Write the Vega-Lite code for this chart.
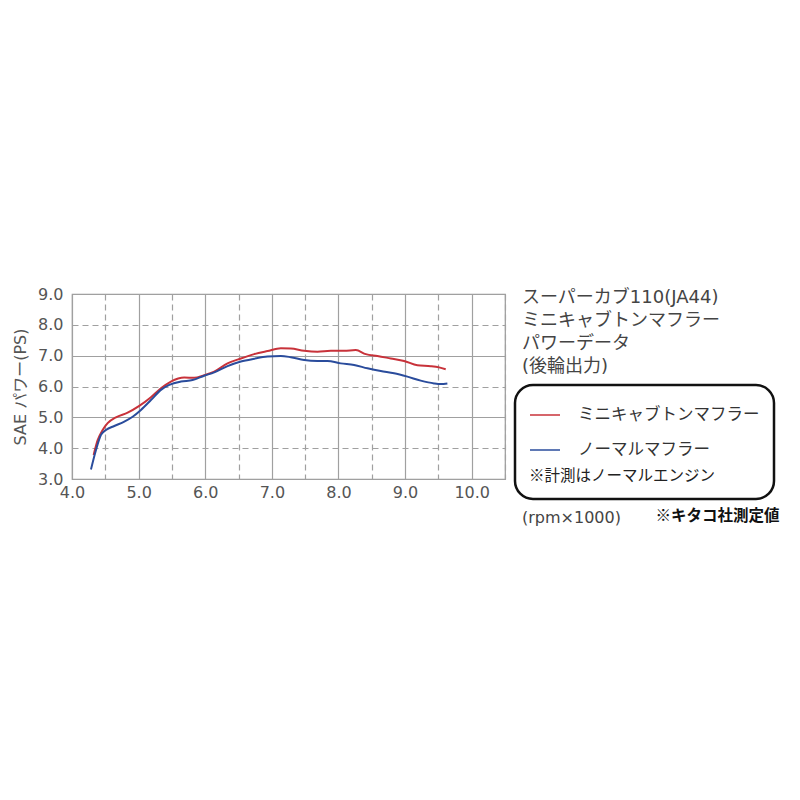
{
  "$schema": "https://vega.github.io/schema/vega-lite/v6.json",
  "width": 433,
  "height": 185,
  "autosize": {"type": "none"},
  "padding": {"left": 72, "top": 294, "right": 295, "bottom": 321},
  "background": "white",
  "title": {
    "text": ["スーパーカブ110(JA44)", "ミニキャブトンマフラー", "パワーデータ", "(後輪出力)"],
    "subtitle": "(rpm×1000)",
    "anchor": "start",
    "frame": "group",
    "orient": "top",
    "dx": 450,
    "dy": 244,
    "baseline": "top",
    "font": "DejaVu Sans, Noto Sans CJK JP",
    "fontSize": 18,
    "fontWeight": "normal",
    "color": "#444444",
    "lineHeight": 23,
    "subtitleFont": "DejaVu Sans, Noto Sans CJK JP",
    "subtitleFontSize": 16,
    "subtitleFontWeight": "normal",
    "subtitleColor": "#444444",
    "subtitlePadding": 134
  },
  "data": {
    "values": [
      {"rpm": 4.325, "ps": 3.78, "series": "ミニキャブトンマフラー"},
      {"rpm": 4.385, "ps": 4.26, "series": "ミニキャブトンマフラー"},
      {"rpm": 4.46, "ps": 4.59, "series": "ミニキャブトンマフラー"},
      {"rpm": 4.535, "ps": 4.81, "series": "ミニキャブトンマフラー"},
      {"rpm": 4.66, "ps": 5.0, "series": "ミニキャブトンマフラー"},
      {"rpm": 4.835, "ps": 5.15, "series": "ミニキャブトンマフラー"},
      {"rpm": 5.01, "ps": 5.37, "series": "ミニキャブトンマフラー"},
      {"rpm": 5.185, "ps": 5.65, "series": "ミニキャブトンマフラー"},
      {"rpm": 5.335, "ps": 5.94, "series": "ミニキャブトンマフラー"},
      {"rpm": 5.485, "ps": 6.16, "series": "ミニキャブトンマフラー"},
      {"rpm": 5.685, "ps": 6.29, "series": "ミニキャブトンマフラー"},
      {"rpm": 5.835, "ps": 6.28, "series": "ミニキャブトンマフラー"},
      {"rpm": 5.985, "ps": 6.37, "series": "ミニキャブトンマフラー"},
      {"rpm": 6.135, "ps": 6.48, "series": "ミニキャブトンマフラー"},
      {"rpm": 6.335, "ps": 6.75, "series": "ミニキャブトンマフラー"},
      {"rpm": 6.535, "ps": 6.91, "series": "ミニキャブトンマフラー"},
      {"rpm": 6.735, "ps": 7.05, "series": "ミニキャブトンマフラー"},
      {"rpm": 6.935, "ps": 7.15, "series": "ミニキャブトンマフラー"},
      {"rpm": 7.135, "ps": 7.24, "series": "ミニキャブトンマフラー"},
      {"rpm": 7.285, "ps": 7.23, "series": "ミニキャブトンマフラー"},
      {"rpm": 7.485, "ps": 7.16, "series": "ミニキャブトンマフラー"},
      {"rpm": 7.685, "ps": 7.13, "series": "ミニキャブトンマフラー"},
      {"rpm": 7.885, "ps": 7.16, "series": "ミニキャブトンマフラー"},
      {"rpm": 8.085, "ps": 7.16, "series": "ミニキャブトンマフラー"},
      {"rpm": 8.26, "ps": 7.18, "series": "ミニキャブトンマフラー"},
      {"rpm": 8.41, "ps": 7.05, "series": "ミニキャブトンマフラー"},
      {"rpm": 8.585, "ps": 6.99, "series": "ミニキャブトンマフラー"},
      {"rpm": 8.785, "ps": 6.91, "series": "ミニキャブトンマフラー"},
      {"rpm": 8.985, "ps": 6.83, "series": "ミニキャブトンマフラー"},
      {"rpm": 9.185, "ps": 6.69, "series": "ミニキャブトンマフラー"},
      {"rpm": 9.385, "ps": 6.66, "series": "ミニキャブトンマフラー"},
      {"rpm": 9.51, "ps": 6.62, "series": "ミニキャブトンマフラー"},
      {"rpm": 9.61, "ps": 6.56, "series": "ミニキャブトンマフラー"},
      {"rpm": 4.285, "ps": 3.31, "series": "ノーマルマフラー"},
      {"rpm": 4.36, "ps": 3.94, "series": "ノーマルマフラー"},
      {"rpm": 4.435, "ps": 4.43, "series": "ノーマルマフラー"},
      {"rpm": 4.51, "ps": 4.59, "series": "ノーマルマフラー"},
      {"rpm": 4.635, "ps": 4.72, "series": "ノーマルマフラー"},
      {"rpm": 4.785, "ps": 4.86, "series": "ノーマルマフラー"},
      {"rpm": 4.91, "ps": 5.02, "series": "ノーマルマフラー"},
      {"rpm": 5.035, "ps": 5.24, "series": "ノーマルマフラー"},
      {"rpm": 5.185, "ps": 5.56, "series": "ノーマルマフラー"},
      {"rpm": 5.335, "ps": 5.89, "series": "ノーマルマフラー"},
      {"rpm": 5.46, "ps": 6.05, "series": "ノーマルマフラー"},
      {"rpm": 5.635, "ps": 6.16, "series": "ノーマルマフラー"},
      {"rpm": 5.81, "ps": 6.21, "series": "ノーマルマフラー"},
      {"rpm": 5.985, "ps": 6.35, "series": "ノーマルマフラー"},
      {"rpm": 6.135, "ps": 6.46, "series": "ノーマルマフラー"},
      {"rpm": 6.335, "ps": 6.66, "series": "ノーマルマフラー"},
      {"rpm": 6.535, "ps": 6.81, "series": "ノーマルマフラー"},
      {"rpm": 6.735, "ps": 6.9, "series": "ノーマルマフラー"},
      {"rpm": 6.935, "ps": 6.97, "series": "ノーマルマフラー"},
      {"rpm": 7.135, "ps": 6.99, "series": "ノーマルマフラー"},
      {"rpm": 7.285, "ps": 6.95, "series": "ノーマルマフラー"},
      {"rpm": 7.485, "ps": 6.86, "series": "ノーマルマフラー"},
      {"rpm": 7.685, "ps": 6.83, "series": "ノーマルマフラー"},
      {"rpm": 7.835, "ps": 6.83, "series": "ノーマルマフラー"},
      {"rpm": 8.035, "ps": 6.75, "series": "ノーマルマフラー"},
      {"rpm": 8.235, "ps": 6.7, "series": "ノーマルマフラー"},
      {"rpm": 8.435, "ps": 6.59, "series": "ノーマルマフラー"},
      {"rpm": 8.635, "ps": 6.5, "series": "ノーマルマフラー"},
      {"rpm": 8.835, "ps": 6.43, "series": "ノーマルマフラー"},
      {"rpm": 9.035, "ps": 6.32, "series": "ノーマルマフラー"},
      {"rpm": 9.235, "ps": 6.19, "series": "ノーマルマフラー"},
      {"rpm": 9.435, "ps": 6.1, "series": "ノーマルマフラー"},
      {"rpm": 9.535, "ps": 6.08, "series": "ノーマルマフラー"},
      {"rpm": 9.635, "ps": 6.1, "series": "ノーマルマフラー"}
    ]
  },
  "mark": {"type": "line", "strokeWidth": 2, "interpolate": "monotone"},
  "encoding": {
    "x": {
      "field": "rpm",
      "type": "quantitative",
      "scale": {"domain": [4, 10.5], "nice": false, "zero": false},
      "axis": {
        "values": [4, 4.5, 5, 5.5, 6, 6.5, 7, 7.5, 8, 8.5, 9, 9.5, 10, 10.5],
        "labelExpr": "datum.value % 1 === 0 ? format(datum.value, '.1f') : ''",
        "labelFlush": false,
        "title": "※キタコ社測定値",
        "titleX": 583,
        "titleY": 36,
        "titleAlign": "left",
        "titleBaseline": "middle",
        "titleFont": "Noto Sans CJK JP",
        "titleFontSize": 15.5,
        "titleFontWeight": "bold",
        "titleColor": "#111111",
        "gridDash": {"condition": {"test": "datum.value % 1 !== 0", "value": [6, 4]}, "value": []}
      }
    },
    "y": {
      "field": "ps",
      "type": "quantitative",
      "scale": {"domain": [3, 9], "nice": false, "zero": false},
      "axis": {
        "values": [3, 4, 5, 6, 7, 8, 9],
        "format": ".1f",
        "labelFlush": false,
        "title": "SAE パワー(PS)",
        "titlePadding": 9,
        "titleFont": "DejaVu Sans, Noto Sans CJK JP",
        "titleFontSize": 16,
        "titleFontWeight": "normal",
        "titleColor": "#555555",
        "gridDash": {"condition": {"test": "datum.value % 2 === 0", "value": [6, 4]}, "value": []}
      }
    },
    "color": {
      "field": "series",
      "type": "nominal",
      "scale": {"domain": ["ミニキャブトンマフラー", "ノーマルマフラー"], "range": ["#c8323a", "#2a4c9c"]},
      "legend": {
        "title": "※計測はノーマルエンジン",
        "titleOrient": "bottom",
        "orient": "none",
        "legendX": 443,
        "legendY": 91,
        "padding": 14,
        "cornerRadius": 18,
        "strokeColor": "#111111",
        "fillColor": "white",
        "symbolType": "stroke",
        "symbolSize": 900,
        "symbolStrokeWidth": 1.5,
        "labelOffset": 17,
        "labelFont": "Noto Sans CJK JP",
        "labelFontSize": 16.5,
        "labelColor": "#333333",
        "labelLimit": 300,
        "rowPadding": 10,
        "titleFont": "Noto Sans CJK JP",
        "titleFontSize": 15.5,
        "titleFontWeight": "normal",
        "titleColor": "#222222",
        "titlePadding": 10,
        "titleLimit": 300,
        "encode": {"legend": {"update": {"strokeWidth": {"value": 2.5}}}}
      }
    }
  },
  "config": {
    "view": {"stroke": "#999999", "strokeWidth": 1.2},
    "axis": {
      "domain": false,
      "ticks": false,
      "grid": true,
      "gridColor": "#a0a0a0",
      "gridWidth": 1.2,
      "gridOpacity": 1,
      "labelFont": "DejaVu Sans",
      "labelFontSize": 16,
      "labelColor": "#555555"
    },
    "axisX": {"labelPadding": 5},
    "axisY": {"labelPadding": 9}
  }
}
